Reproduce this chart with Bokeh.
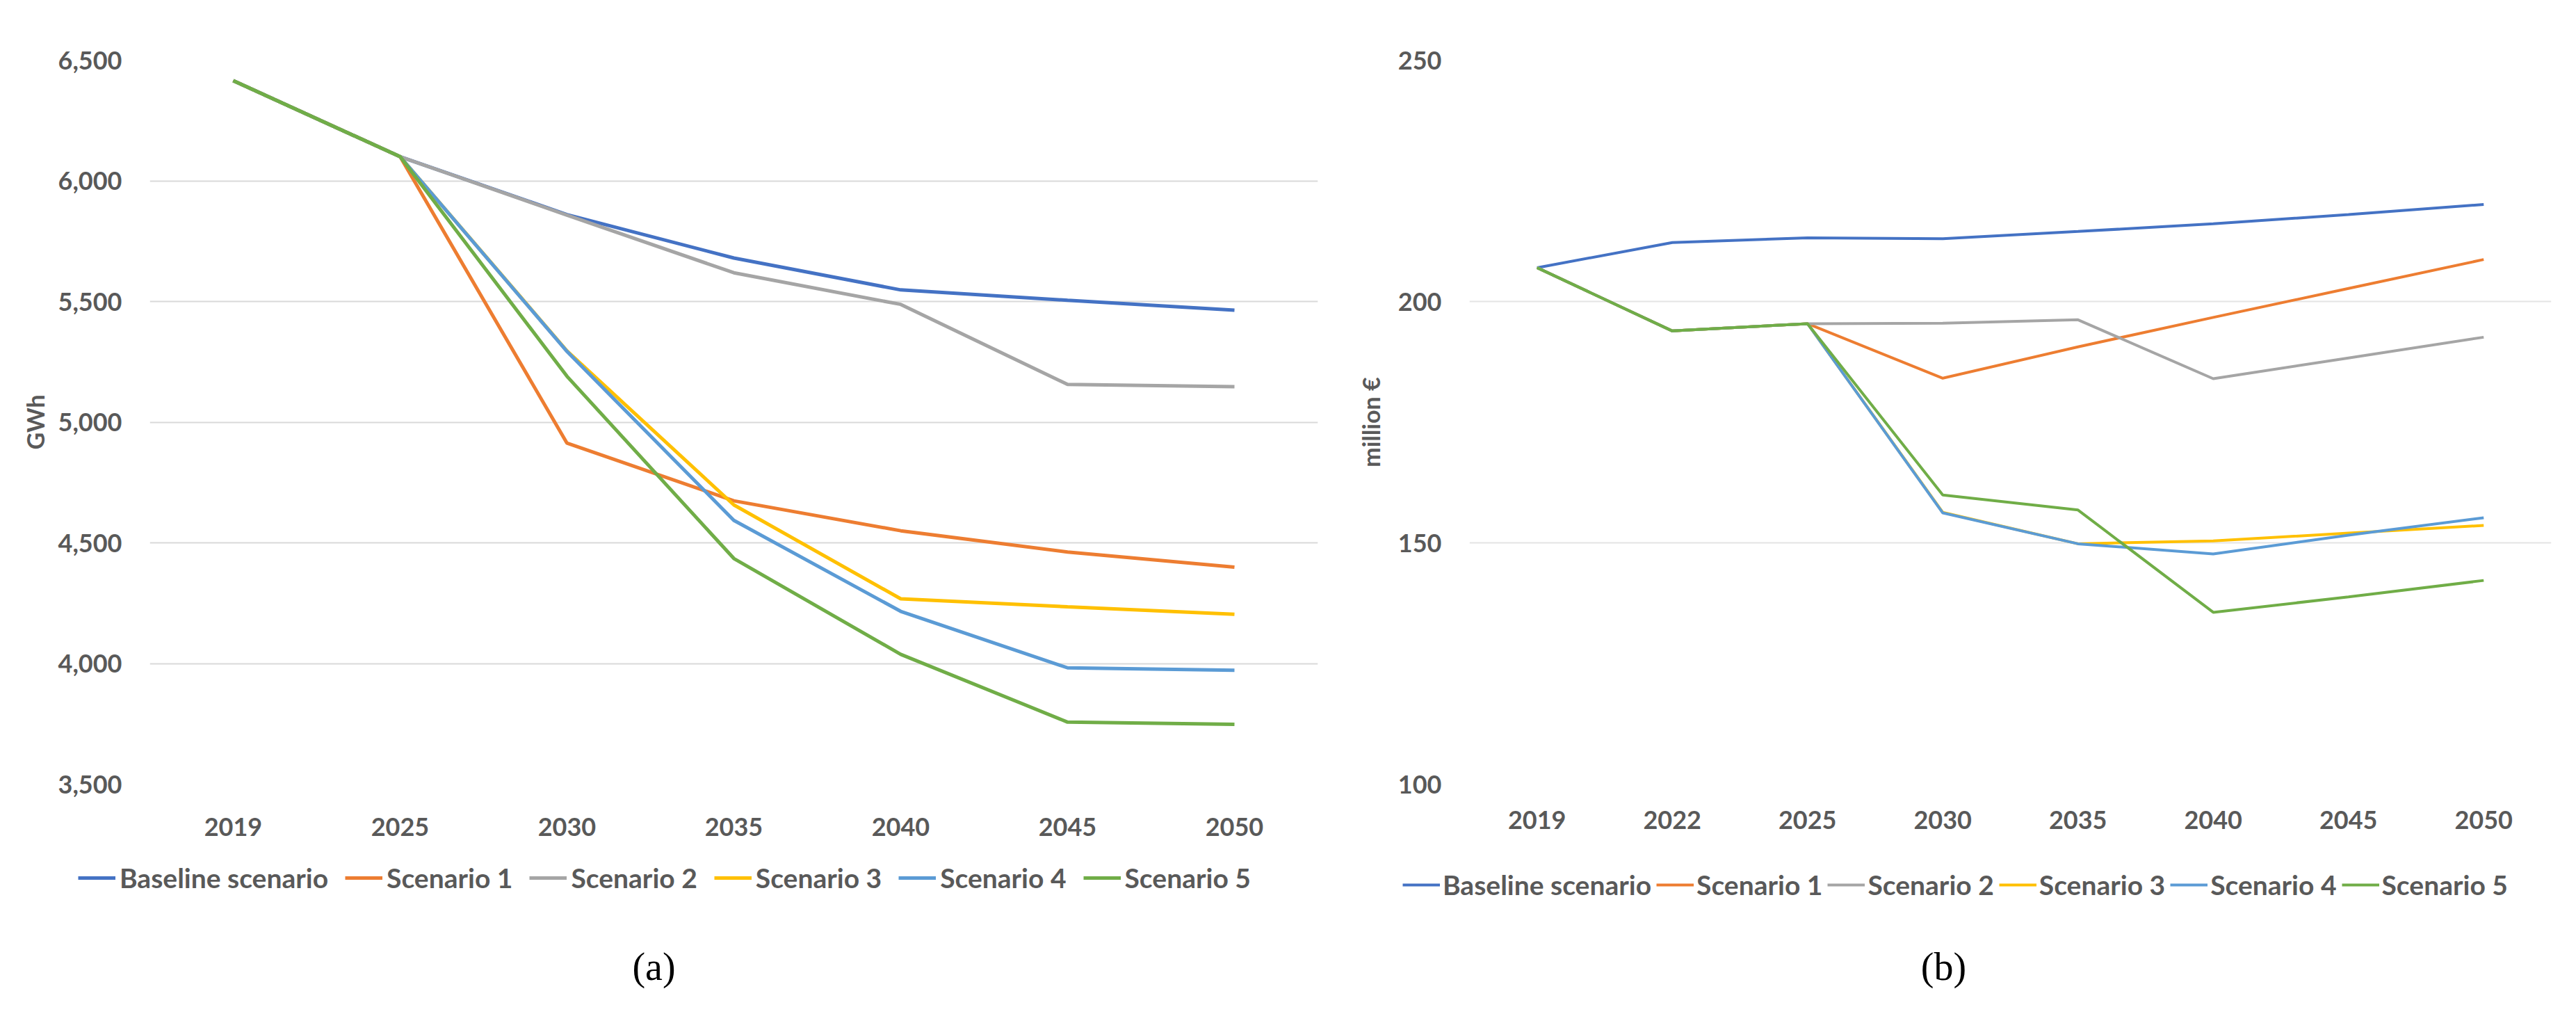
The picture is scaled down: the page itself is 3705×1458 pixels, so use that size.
from bokeh.plotting import figure
from bokeh.models import (Range1d, FactorRange, SingleIntervalTicker, NumeralTickFormatter,
                          Legend, LegendItem, Label)
from bokeh.layouts import row, column
from bokeh.embed import file_html
from bokeh.resources import INLINE

series_names = ["Baseline scenario", "Scenario 1", "Scenario 2", "Scenario 3", "Scenario 4", "Scenario 5"]
series_colors = ["#4472C4", "#ED7D31", "#A5A5A5", "#FFC000", "#5B9BD5", "#70AD47"]

# (a) electricity demand, GWh
years_a = ["2019", "2025", "2030", "2035", "2040", "2045", "2050"]
baseline_a = [6415, 6100, 5860, 5680, 5548, 5505, 5464]
scen1_a = [6415, 6100, 4913, 4674, 4550, 4462, 4399]
scen2_a = [6415, 6100, 5858, 5619, 5488, 5156, 5147]
scen3_a = [6415, 6100, 5295, 4657, 4268, 4235, 4204]
scen4_a = [6415, 6100, 5293, 4593, 4216, 3982, 3972]
scen5_a = [6415, 6100, 5190, 4435, 4038, 3757, 3748]

# (b) cost, million €
years_b = ["2019", "2022", "2025", "2030", "2035", "2040", "2045", "2050"]
baseline_b = [207.0, 212.2, 213.2, 213.0, 214.5, 216.1, 218.0, 220.1]
scen1_b = [207.0, 193.9, 195.4, 184.1, 190.6, 196.7, 202.7, 208.7]
scen2_b = [207.0, 193.9, 195.4, 195.5, 196.2, 184.0, 188.3, 192.6]
scen3_b = [207.0, 193.9, 195.4, 156.3, 149.8, 150.4, 152.0, 153.6]
scen4_b = [207.0, 193.9, 195.4, 156.2, 149.8, 147.7, 151.6, 155.2]
scen5_b = [207.0, 193.9, 195.4, 159.9, 156.8, 135.6, 138.8, 142.2]

TEXT = "#595959"
FONT = "Lato"
TOP_H = 1236
LEG_H = 204


def make_chart(years, series, ymin, ymax, step, fmt, ylabel, width, frame_h,
               bl, br, bt, lw, grid_color, x_standoff, ylabel_standoff):
    p = figure(width=width, height=TOP_H,
               x_range=FactorRange(factors=years),
               y_range=Range1d(ymin, ymax),
               output_backend="svg", toolbar_location=None,
               min_border_left=bl, min_border_right=br,
               min_border_top=bt, min_border_bottom=TOP_H - bt - frame_h)
    p.outline_line_color = None
    p.background_fill_color = "white"
    p.border_fill_color = "white"

    ticker = SingleIntervalTicker(interval=step)
    p.yaxis[0].ticker = ticker
    p.ygrid[0].ticker = ticker
    p.yaxis[0].formatter = NumeralTickFormatter(format=fmt)
    p.xgrid.grid_line_color = None
    p.ygrid.grid_line_color = grid_color
    p.ygrid.grid_line_width = 2

    for ax in (p.xaxis[0], p.yaxis[0]):
        ax.axis_line_color = None
        ax.major_tick_line_color = None
        ax.minor_tick_line_color = None
        ax.major_tick_in = 0
        ax.major_tick_out = 0
        ax.major_label_text_font = FONT
        ax.major_label_text_font_style = "bold"
        ax.major_label_text_font_size = "36px"
        ax.major_label_text_color = TEXT
    p.yaxis[0].major_label_standoff = 36
    p.xaxis[0].major_label_standoff = x_standoff
    p.yaxis[0].axis_label = ylabel
    p.yaxis[0].axis_label_text_font = FONT
    p.yaxis[0].axis_label_text_font_style = "bold"
    p.yaxis[0].axis_label_text_font_size = "34px"
    p.yaxis[0].axis_label_text_color = TEXT
    p.yaxis[0].axis_label_standoff = ylabel_standoff

    for col, ys in zip(series_colors, series):
        p.line(x=years, y=ys, line_color=col, line_width=lw)
    return p


def make_legend(years, series, width, lw, legend_xy, spacing, standoff, caption, caption_xy):
    # strip under each chart: the same series are plotted out of view so the
    # legend has real renderers; the frame fills the whole strip
    q = figure(width=width, height=LEG_H,
               x_range=FactorRange(factors=years), y_range=Range1d(-2.0, -1.0),
               x_axis_location=None, y_axis_location=None,
               output_backend="svg", toolbar_location=None,
               min_border=0, min_border_left=0, min_border_right=0,
               min_border_top=0, min_border_bottom=0)
    q.outline_line_color = None
    q.grid.visible = False
    q.background_fill_color = "white"
    q.border_fill_color = "white"
    items = []
    for name, col, ys in zip(series_names, series_colors, series):
        r = q.line(x=years, y=ys, line_color=col, line_width=lw)
        items.append(LegendItem(label=name, renderers=[r]))
    legend = Legend(items=items, location=legend_xy, orientation="horizontal",
                    padding=0, margin=0, spacing=spacing,
                    label_standoff=standoff, glyph_width=54, glyph_height=40,
                    label_height=40,
                    border_line_color=None, background_fill_alpha=0,
                    label_text_font=FONT, label_text_font_style="bold",
                    label_text_font_size="39px", label_text_color=TEXT)
    q.add_layout(legend, "center")
    q.add_layout(Label(x=caption_xy[0], y=caption_xy[1], x_units="screen", y_units="screen",
                       text=caption, text_font="Liberation Serif", text_font_size="56px",
                       text_color="black", text_align="center", text_baseline="middle"))
    return q


series_a = [baseline_a, scen1_a, scen2_a, scen3_a, scen4_a, scen5_a]
series_b = [baseline_b, scen1_b, scen2_b, scen3_b, scen4_b, scen5_b]

pa = make_chart(years_a, series_a, 3500, 6500, 500, "0,0", "GWh", 1940, 1041,
                215, 45, 86, 5, "#D9D9D9", 48, 10)
pb = make_chart(years_b, series_b, 100, 250, 50, "0", "million €", 1749, 1078,
                173, 20, 63, 4, "#E4E4E4", 38, 16)

la = make_legend(years_a, series_a, 1940, 5, (112, 155), 24, 6, "(a)", (940, 51))
lb = make_legend(years_b, series_b, 1749, 4, (77, 145), 7, 4, "(b)", (855, 51))

layout = column(row(pa, pb, spacing=0), row(la, lb, spacing=0), spacing=0)
open("out.html", "w").write(file_html(layout, INLINE))
